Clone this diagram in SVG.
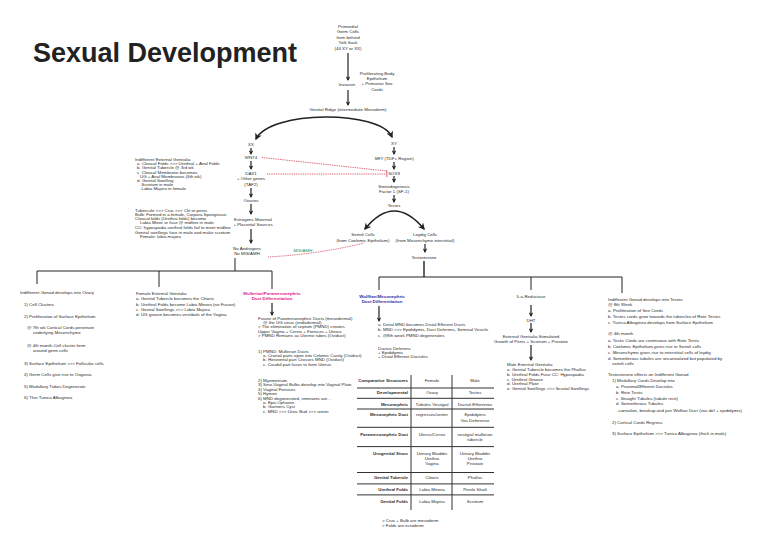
<svg xmlns="http://www.w3.org/2000/svg" width="768" height="549" viewBox="0 0 768 549">
<style>
text{font-family:"Liberation Sans",Arial,sans-serif;font-size:4.4px;fill:#2a2a2a}
.m{text-anchor:middle}
.e{text-anchor:end}
.b{font-weight:bold}
.ln{stroke:#222;fill:none;stroke-width:1}
.ar{stroke:#222;stroke-width:1.2;fill:none;marker-end:url(#ah)}
.big{stroke:#222;stroke-width:1.6;fill:none;marker-start:url(#ahs);marker-end:url(#ahb)}
.rd{stroke:#d0304a;stroke-width:0.8;stroke-dasharray:1 0.8;fill:none}
.tb{stroke:#333;stroke-width:1;fill:none}
</style>
<defs>
<marker id="ah" viewBox="0 0 10 10" refX="8" refY="5" markerWidth="4.5" markerHeight="4.5" markerUnits="userSpaceOnUse" orient="auto"><path d="M0,0 L10,5 L0,10 L3,5 z" fill="#222"/></marker>
<marker id="ahb" viewBox="0 0 10 10" refX="8" refY="5" markerWidth="7" markerHeight="7" markerUnits="userSpaceOnUse" orient="auto"><path d="M0,0 L10,5 L0,10 L3,5 z" fill="#222"/></marker>
<marker id="ahs" viewBox="0 0 10 10" refX="2" refY="5" markerWidth="7" markerHeight="7" markerUnits="userSpaceOnUse" orient="auto"><path d="M10,0 L0,5 L10,10 L7,5 z" fill="#222"/></marker>
</defs>
<rect width="768" height="549" fill="#fff"/>
<text x="33" y="62" style="font-size:27px;font-weight:bold;fill:#222">Sexual Development</text>

<g id="connectors">
<line class="ar" x1="348" y1="53" x2="348" y2="80"/>
<line class="ar" x1="348" y1="90" x2="348" y2="105"/>
<path class="big" d="M256 139 C 270 110, 380 110, 392 137"/>
<line class="ar" x1="251" y1="148" x2="251" y2="154"/>
<line class="ar" x1="251" y1="161" x2="251" y2="169"/>
<line class="ar" x1="251" y1="188" x2="251" y2="197"/>
<line class="ar" x1="251" y1="204" x2="251" y2="214"/>
<line class="ar" x1="251" y1="229" x2="251" y2="243"/>
<line class="ar" x1="394" y1="147" x2="394" y2="154"/>
<line class="ar" x1="394" y1="162" x2="394" y2="169"/>
<line class="ar" x1="394" y1="176" x2="394" y2="182"/>
<line class="ar" x1="394" y1="195" x2="394" y2="202"/>
<path class="big" d="M365 229 Q 394 193 424 229"/>
<line class="ar" x1="425" y1="244" x2="425" y2="252"/>
<path class="rd" d="M262 157.5 L386 171"/>
<path class="rd" d="M267 174 L386 174"/>
<path d="M386.8 170 L386.8 177" stroke="#d0304a" stroke-width="0.8"/>
<path class="rd" d="M268 257 Q 320 254 364 243"/>
<path class="ln" d="M235 258 V271 M37 271 H272 M37 271 V284 M159 271 V287 M272 271 V289"/>
<line class="ar" x1="272" y1="303" x2="272" y2="315"/>
<path class="ln" style="stroke-width:1.4" d="M424 261 V277"/>
<path class="ln" d="M379 277 H622 M379 277 V290 M531 277 V290 M622 277 V293"/>
<line class="ar" x1="379" y1="306" x2="379" y2="321"/>
<line class="ar" x1="531" y1="305" x2="531" y2="316"/>
<line class="ar" x1="531" y1="323" x2="531" y2="332"/>
<line class="ar" x1="531" y1="345" x2="531" y2="360"/>
</g>

<g id="primordial">
<text class="m" x="348" y="27.5">Primordial</text>
<text class="m" x="348" y="33">Germ Cells</text>
<text class="m" x="348" y="38.5">from behind</text>
<text class="m" x="348" y="44">Yolk Sack</text>
<text class="m" x="348" y="49.5">(44 XY or XX)</text>
</g>
<g id="invasion"><text class="m" x="347" y="85.5">Invasion</text></g>
<g id="proliferating">
<text class="m" x="377" y="74.5">Proliferating Body</text>
<text class="m" x="377" y="79.8">Epithelium</text>
<text class="m" x="377" y="85.2">+ Primarive Sex</text>
<text class="m" x="377" y="90.5">Cords</text>
</g>
<g id="ridge"><text class="m" x="348" y="110.8">Genital Ridge (intermediate Mesoderm)</text></g>

<g id="xx"><text class="m" x="251" y="145.5">XX</text></g>
<g id="wnt4"><text class="m" x="251" y="158.5">WNT4</text></g>
<g id="dax1">
<text class="m" x="251" y="174.5">DAX1</text>
<text class="m" x="251" y="180">+ Other genes</text>
<text class="m" x="251" y="185.5">(TAF2)</text>
</g>
<g id="ovaries"><text class="m" x="251" y="201.5">Ovaries</text></g>
<g id="estrogens">
<text class="m" x="253" y="220.5">Estrogens Maternal</text>
<text class="m" x="253" y="226">+ Placental Sources</text>
</g>
<g id="noandrogens">
<text class="m" x="247" y="249.5">No Androgens</text>
<text class="m" x="247" y="255">No MIS/AMH</text>
</g>
<g id="misamh"><text class="m" x="303" y="252" style="fill:#2f8a3c">MIS/AMH</text></g>

<g id="indifferent-external">
<text x="135" y="160.5">Indifferent External Genitalia</text>
<text x="137" y="164.8">a. Cloacal Folds &gt;&gt;&gt; Urethral + Anal Folds</text>
<text x="137" y="169">b. Genital Tubercle @ 3rd wk</text>
<text x="137" y="173.5">c. Cloacal Membrane becomes</text>
<text x="140" y="177.7">UG + Anal Membranes (6th wk)</text>
<text x="137" y="182">d. Genital Swelling</text>
<text x="140" y="186.2">-Scrotum in male</text>
<text x="140" y="190.4">-Labia Majora in female</text>
</g>
<g id="tubercule">
<text x="135" y="211.5">Tubercule &gt;&gt;&gt; Crus &gt;&gt;&gt; Clit or penis</text>
<text x="135" y="215.8">Bulb: Formed in a female, Corpora Spongiosus</text>
<text x="135" y="220">Cloacal folds (Urethra folds) become</text>
<text x="140" y="224.2">Labia Minor or fuse @ midline in male</text>
<text x="135" y="229">CC: hypospadia urethral folds fail to meet midline</text>
<text x="135" y="233.5">Genital swellings fuse in male and make scrotum</text>
<text x="140" y="238">Female: labia majora</text>
</g>

<g id="xy"><text class="m" x="394" y="144.5">XY</text></g>
<g id="sry"><text class="m" x="394" y="159.5">SRY (TDF+ Region)</text></g>
<g id="sox9"><text class="m" x="394" y="174.5">SOX9</text></g>
<g id="sf1">
<text class="m" x="394" y="187.5">Steroidogenesis</text>
<text class="m" x="394" y="193">Factor 1 (SF-1)</text>
</g>
<g id="testes"><text class="m" x="394" y="207">Testes</text></g>
<g id="sertoli">
<text class="m" x="363" y="236">Sertoli Cells</text>
<text class="m" x="363" y="241.5">(from Coelomic Epithelium)</text>
</g>
<g id="leydig">
<text class="m" x="425" y="236">Leydig Cells</text>
<text class="m" x="425" y="241.5">(from Mesenchyme interstitial)</text>
</g>
<g id="testosterone"><text class="m" x="424" y="258.5">Testosterone</text></g>

<g id="ovary">
<text x="20" y="293.5">Indifferent Gonad develops into Ovary</text>
<text x="24" y="305.5">1) Cell Clusters</text>
<text x="24" y="317.5">2) Proliferation of Surface Epithelium</text>
<text x="27" y="328.5">@ 7th wk Cortical Cords penetrate</text>
<text x="33" y="334">underlying Mesenchyme</text>
<text x="27" y="346.5">@ 4th month-Cell cluster form</text>
<text x="33" y="352">around germ cells</text>
<text x="24" y="364.5">3) Surface Epithelium &gt;&gt;&gt; Follicular cells</text>
<text x="24" y="376">4) Germ Cells give rise to Oogonia</text>
<text x="24" y="387.5">5) Medullary Tubes Degenerate</text>
<text x="24" y="399">6) Thin Tunica Albuginea</text>
</g>

<g id="female-external">
<text x="136" y="294.5">Female External Genitalia</text>
<text x="136" y="300">a. Genital Tubercle becomes the Clitoris</text>
<text x="136" y="305.5">b. Urethral Folds become Labia Minora (no Fusion)</text>
<text x="136" y="310.8">c. Genital Swellings &gt;&gt;&gt; Labia Majora</text>
<text x="136" y="316.2">d. UG groove becomes vestibule of the Vagina</text>
</g>

<g id="mullerian">
<text class="m b" x="272" y="294.5" style="fill:#e0168c">Mullerian/Paramesonephric</text>
<text class="m b" x="272" y="300" style="fill:#e0168c">Duct Differentiation</text>
<text x="258" y="319.5">Fusion of Paramesonephric Ducts (mesodermal)</text>
<text x="263" y="323.9">@ the UG sinus (endodermal)</text>
<text x="258" y="328.3">&gt; The elimination of septum (PMND) creates</text>
<text x="258" y="332.7">Upper Vagina + Cervix + Fornices + Uterus</text>
<text x="258" y="337.1">&gt; PMND Remains as Uterine tubes (Oviduct)</text>
<text x="258" y="352.5">1) PMND: Mullerian Ducts</text>
<text x="263" y="356.8">a. Cranial parts open into Celomic Cavity (Oviduct)</text>
<text x="263" y="361.1">b. Horizontal part Crosses MND (Oviduct)</text>
<text x="263" y="365.5">c. Caudal part fuses to form Uterus</text>
<text x="258" y="382">2) Myometrium</text>
<text x="258" y="386.4">3) Sino-Vaginal Bulbs develop into Vaginal Plate</text>
<text x="258" y="390.8">4) Vaginal Fornices</text>
<text x="258" y="395.2">5) Hymen</text>
<text x="258" y="399.6">6) MND degenerated, remnants are...</text>
<text x="263" y="404">a. Epo-Ophoron</text>
<text x="263" y="408.4">b. Gartners Cyst</text>
<text x="263" y="412.8">c. MND &gt;&gt;&gt; Ureic Bud &gt;&gt;&gt; ureter</text>
</g>

<g id="wolffian">
<text class="m b" x="382" y="297.5" style="fill:#2b2fa8">Wolffian/Mesonephric</text>
<text class="m b" x="382" y="303" style="fill:#2b2fa8">Duct Differentiation</text>
<text x="378" y="325.5">a. Distal MND becomes Distal Efferent Ducts</text>
<text x="378" y="331">b. MND &gt;&gt;&gt; Epididymis, Duct Deferens, Seminal Vesicle</text>
<text x="378" y="337">c. @8th week PMND degenerates</text>
<text x="378" y="349.5">Ductus Deferens</text>
<text x="378" y="353.8">+ Epididymis</text>
<text x="378" y="358">+ Distal Efferent Ductules</text>
</g>

<g id="table">
<path class="tb" d="M411 375 V510 M452 375 V510"/>
<path class="tb" d="M357 388 H494 M357 398.3 H494 M357 409 H494 M357 427.3 H494 M357 446.6 H494 M357 472.5 H494 M357 483.9 H494 M357 494.9 H494"/>
<text class="e b" x="408" y="382">Comparative Structures</text>
<text class="m" x="432" y="382">Female</text>
<text class="m" x="475" y="382">Male</text>
<text class="e b" x="408" y="394.3">Developmental</text>
<text class="m" x="432" y="394.3">Ovary</text>
<text class="m" x="475" y="394.3">Testes</text>
<text class="e b" x="408" y="405.7">Mesonephric</text>
<text class="m" x="432" y="405.7">Tubules Vestigial</text>
<text class="m" x="475" y="405.7">Ductuli Efferentes</text>
<text class="e b" x="408" y="416.4">Mesonephric Duct</text>
<text class="m" x="432" y="416.4">regresses/ureter</text>
<text class="m" x="475" y="416.4">Epididymis</text>
<text class="m" x="475" y="421.9">Vas Deferense</text>
<text class="e b" x="408" y="435.7">Paramesonephric Duct</text>
<text class="m" x="432" y="435.7">Uterus/Cervix</text>
<text class="m" x="475" y="435.7">vestigial mullerian</text>
<text class="m" x="475" y="441.2">tubercle</text>
<text class="e b" x="408" y="454.7">Urogenital Sinus</text>
<text class="m" x="432" y="454.7">Urinary Bladder</text>
<text class="m" x="432" y="459.8">Urethra</text>
<text class="m" x="432" y="465">Vagina</text>
<text class="m" x="475" y="454.7">Urinary Bladder</text>
<text class="m" x="475" y="459.8">Urethra</text>
<text class="m" x="475" y="465">Prostate</text>
<text class="e b" x="408" y="479.1">Genital Tubercle</text>
<text class="m" x="432" y="479.1">Clitoris</text>
<text class="m" x="475" y="479.1">Phallus</text>
<text class="e b" x="408" y="490.9">Urethral Folds</text>
<text class="m" x="432" y="490.9">Labia Minora</text>
<text class="m" x="475" y="490.9">Penile Shaft</text>
<text class="e b" x="408" y="502.9">Genital Folds</text>
<text class="m" x="432" y="502.9">Labia Majora</text>
<text class="m" x="475" y="502.9">Scrotum</text>
<text x="382" y="521.5">&gt; Crus + Bulb are mesoderm</text>
<text x="382" y="526.5">&gt; Folds are ectoderm</text>
</g>

<g id="reductase">
<text class="m" x="531" y="297.5">5-a-Reductase</text>
<text class="m" x="531" y="321.5">DHT</text>
<text class="m" x="531" y="337.5">External Genitalia Stimulated</text>
<text class="m" x="531" y="343.3">Growth of Penis + Scrotum + Prostate</text>
<text x="507" y="366">Male External Genitalia</text>
<text x="507" y="371">a. Genital Tubercle becomes the Phallus</text>
<text x="507" y="376">b. Urethral Folds Fuse CC: Hypospadia</text>
<text x="507" y="380.6">c. Urethral Groove</text>
<text x="507" y="385.3">d. Urethral Plate</text>
<text x="507" y="390">e. Genital Swellings &gt;&gt;&gt; Scrotal Swellings</text>
</g>

<g id="testes-dev">
<text x="608" y="300.5">Indifferent Gonad develops into Testes</text>
<text x="608" y="305.8">@ 8th Week</text>
<text x="608" y="311.5">a. Proliferation of Sex Cords</text>
<text x="608" y="317.5">b. Testes cords grow towards the tuberclex of Rete Testes</text>
<text x="608" y="323.5">c. Tunica Albuginea develops from Surface Epithelium</text>
<text x="608" y="334.8">@ 4th month</text>
<text x="608" y="341.5">a. Testis Cords are continuous with Rete Testis</text>
<text x="608" y="347.5">b. Coelomic Epithelium gives rise to Sertoli cells</text>
<text x="608" y="353.5">c. Mesenchyme gives rise to interstitial cells of leydig</text>
<text x="608" y="359.5">d. Seminiferous tubules are uncannalized but populated by</text>
<text x="612" y="365">sertoli cells</text>
<text x="608" y="375.5">Testosterone effects on Indifferent Gonad</text>
<text x="612" y="381.5">1) Medullary Cords Develop into</text>
<text x="616" y="387.5">a. Proximal/Efferent Ductules</text>
<text x="616" y="393.5">b. Rete Testis</text>
<text x="616" y="399.5">c. Straight Tubules (tubule recti)</text>
<text x="616" y="404.8">d. Seminiferous Tubules</text>
<text x="617" y="411.5">-cannalize, breakup and join Wolfian Duct (vas def + epididymis)</text>
<text x="612" y="423.5">2) Cortical Cords Regress</text>
<text x="612" y="434.5">3) Surface Epithelium &gt;&gt;&gt; Tunica Albuginea (thick in male)</text>
</g>
</svg>
